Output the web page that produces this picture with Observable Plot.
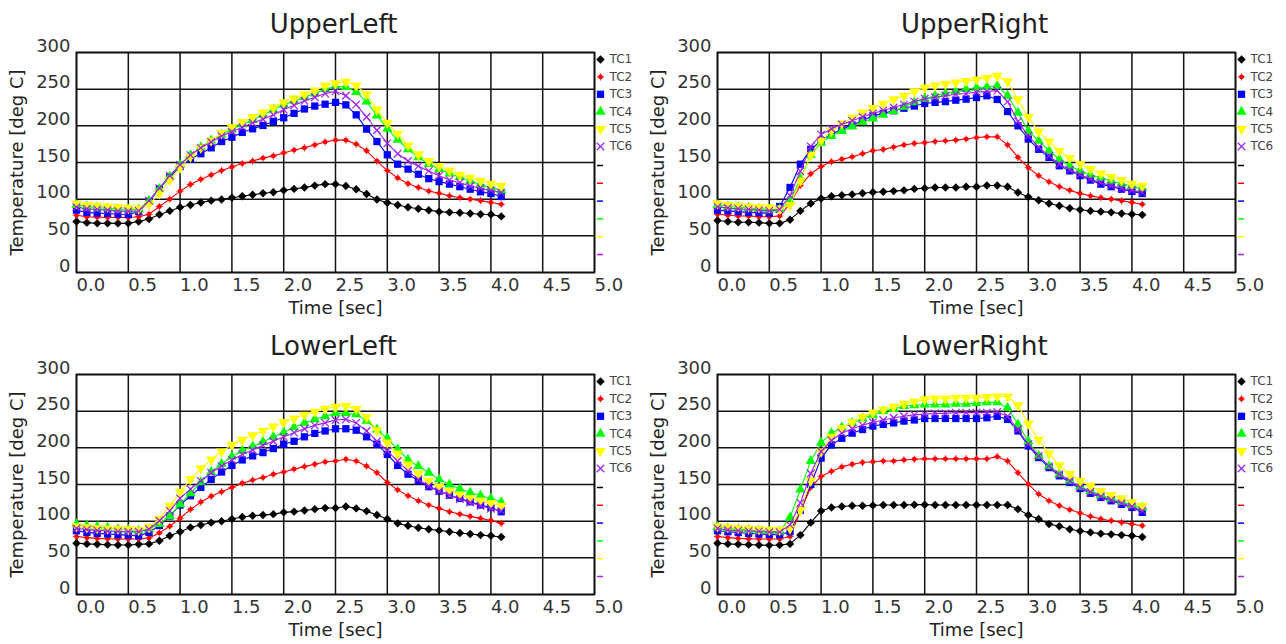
<!DOCTYPE html>
<html>
<head>
<meta charset="utf-8">
<script src="https://cdn.jsdelivr.net/npm/d3@7"></script>
<script src="https://cdn.jsdelivr.net/npm/@observablehq/plot@0.6"></script>
<style>
  html, body { margin: 0; padding: 0; background: #fff; }
  #panels { position: relative; width: 1286px; height: 644px; overflow: hidden; background: #fff; }
  #panels > div { position: absolute; }
</style>
</head>
<body>
<div id="panels"></div>
<script>
// Sample times [sec]
const times = [0.0,0.1,0.2,0.3,0.4,0.5,0.6,0.7,0.8,0.9,1.0,1.1,1.2,1.3,1.4,1.5,1.6,1.7,1.8,1.9,2.0,
               2.1,2.2,2.3,2.4,2.5,2.6,2.7,2.8,2.9,3.0,3.1,3.2,3.3,3.4,3.5,3.6,3.7,3.8,3.9,4.0,4.1];

const seriesNames = ["TC1", "TC2", "TC3", "TC4", "TC5", "TC6"];
const panelTitles = ["UpperLeft", "UpperRight", "LowerLeft", "LowerRight"];
const xTicks = [0, 0.5, 1, 1.5, 2, 2.5, 3, 3.5, 4, 4.5, 5];
const yTicks = [0, 50, 100, 150, 200, 250, 300];

// Thermocouple temperatures [deg C], one array per sensor and location
const upperLeftTC1 = [69.5,68,67,67,67,67,69.5,73,79,84,89,92,95.5,98,99.5,102,104,106,108,109.5,112,114,116,118.5,120.5,120.5,118,113.5,107,99.5,95,92,89,87,85,83,82,81.5,80.5,79.5,79,76.5];
const upperLeftTC2 = [78,76,75.5,75,75,75,76,79.5,90,100,111,120,127,133,139,144,148.5,152,156,159,163,167,170,174,178,180.5,180.5,175,166,152,139,129,121,116,111,108,104.5,102,100,98,95.5,93];
const upperLeftTC3 = [85,82,81,80.5,79.5,79,83,97,114,130,144.5,155,162,170,178.6,184.5,191,196,200.5,206,211,217,223,227,229.5,232,228.6,215,195.5,178.6,160.5,147.7,141,134,128,124,120.5,117,113.6,110,107.7,103.6];
const upperLeftTC4 = [92,90,88.5,87.5,86.5,86,86,98,114,131,147,160,171,180,188,195,202,208,215,222,229,234,239,244,250,254,253,246,233,214,196,181,168,157,148,141,135,130,125,120,116,112];
const upperLeftTC5 = [94,92,91,90,89,88,87,93,108,126,143,158,170,180,190,198,205,212,218,225,232,237,243,248,255,258,260,255,243,222,204,189,173,161,152,145,139,133,129,125,121,118];
const upperLeftTC6 = [89,87,86,85,84,83.5,84,98,115,132,147,160,170,178,186,192,198,204,209,215,222,228,234,239,244,247,241,229,212,194,176,162,152,145,138.5,132,126,122.5,118,115,112,109];

const upperRightTC1 = [71,69.5,68.6,68.6,68,67,67,72,84,94,101,104,105.5,106.5,108,109.5,110,111,112,114,115,116,116,116,117,117,118.6,118.6,117,109,103,98.6,94,91,87.7,85.5,84,83,82,80.5,79.5,78.6];
const upperRightTC2 = [79.5,78,77,77,76,76,77,94,118.6,134.6,144.5,151,154.5,157.7,162,166,167.7,171,174,176,177,178.6,179.5,180.5,182,184,185,185,174,157,143,132,123.6,117,112,107.7,104.5,102,100,97.7,95.5,93];
const upperRightTC3 = [85,84,83,82,81.5,81,90,116,147.7,168,179.5,188.6,195.5,201,207,213.6,217,220.5,224,227,230.5,232,233,235,236.4,238.6,241,236,219.5,200,182,168,157,145.5,138.6,132,126,120.5,117,113.6,110.5,107.7];
const upperRightTC4 = [92,90,89,88,87,86,86,97,128,160,177,186,193,199,205,210,215,220,226,232,237,241,244,247,250,252,253,254.5,241,218,193,179.5,166,154.5,145.5,138.6,133,129.5,125,121,118,115];
const upperRightTC5 = [94,92,91,90,89,88.6,87,92,125,160,180,193,203,211,218,224,230,236,241,247,252,255,257,259,261,263,265.5,268,260.5,236,212,192,178.6,166,156,147.7,141,135,130.5,126,121,118];
const upperRightTC6 = [89.5,88,87,86,85,84,86,105,138,172,188,196,202,207,212,217,221,225,229,233,237,239,241,243,244,246,247,248,233,206,186,171,159,148,140,133.5,127.5,122.5,118.5,115,112,109];

const lowerLeftTC1 = [70,69,68.4,68,67.5,67.5,68.4,69,73.4,80,85.6,91.5,94.7,98,100,103,105.6,107.4,108.3,109.6,112,113,114.6,116.4,118,118,120,117.4,113.7,108.3,103,97,93.8,91,89,87.4,85.6,83.8,82.5,81,80,78.4];
const lowerLeftTC2 = [79,77.5,76.5,76,75.7,75.7,75.7,77,84,93,104,116,126,134,140,146,151.8,156,159.5,164,167,171,174.4,177.6,180.8,182,184.4,182,175,166,152.7,142.7,134.6,127.8,122,117.4,112.8,109.6,106.5,103.8,101,97];
const lowerLeftTC3 = [87,84.7,83.4,82.5,81.6,81,80,84.7,94,107,122,134.6,146,157,167,176,183.5,189,193.5,199,205,209,215,219.7,223,226,226,224,215,205,191,176,164,155,147,141,135.5,131,126.4,122,118.7,112.8];
const lowerLeftTC4 = [96,93.8,92.4,91,89,88.4,87,89,96,107,123,138,153,167,178,188,196,202,208,215,221,228,234,239,243,247,247,245.6,237,225,213,198,184,175,166,157,150,144,139,135,131,126];
const lowerLeftTC5 = [93,91.5,90.5,90,89.5,89,88,92,103,121,140,157,172,184,195,204,211,217,223,229,235,240,245,249,253,256,257,253,242,224,207,192,177,165,155,147,141,136,131,128,124.5,121];
const lowerLeftTC6 = [90,88.5,87.5,86.5,86,85.6,85.6,89,100.6,114,131,143.6,155,166,175,183.5,191,197,203.4,209,215,220.7,226,230.6,234,238,238.8,234,223,209,196,182,168.5,157,148,141,135.5,130,125.5,121,117,114];

const lowerRightTC1 = [70,69,68.4,68,67.5,67,67.5,69,81,98,114,118.7,120,121,121,121.5,122,122,122,122.5,122.5,122,122,122,122,122,122,122,122,116.4,108.3,103,96,93,89,86.5,84.7,83,82,81,80,78.4];
const lowerRightTC2 = [79,77.5,76.5,76,75.7,75.7,75.7,79,113,146,161,168,174,177.6,180,181,182,182,183.5,184.4,185,185,185,185,185,185,185,188,182,166,150.4,137,127.8,121,115.5,111,106.5,103,100.6,98.3,96,93.8];
const lowerRightTC3 = [87,85.6,84.5,83.5,82.5,82,81.6,85.6,115,150,186,204,213,220,225,229.7,232,234,236.5,238,240,240,240,240,240,240,241,243,238.8,223,202.5,186.7,173,161.8,152.7,144.5,138,132.3,127.8,123,118.7,112];
const lowerRightTC4 = [92,90,89,88,87,86.5,86,105,143,182,207,220,228,234,240,245,250,253,257,258,259,259,259,260,260,261,262,262,254.6,232,209,189,175,164,155,147,141,135.5,131,126.4,122,118.7];
const lowerRightTC5 = [93,91.5,90.5,90,89,88,88,90,115,155,195,215,227,235,242,248,252,256,260,263,266,267,267,268,268,268,269,270,270,258,233,211,192,176,164,155,148,141,135.5,131,125.5,121];
const lowerRightTC6 = [90,88,87,86.5,86,85,85,95,125,165,195,210,220,226,231,235,238,241,243,245,246,247,247,248,248,248,248,249,243,225,205,189,175,164,155,146,140,133.7,129,124.6,120,114];

const panelValues = [
  [upperLeftTC1, upperLeftTC2, upperLeftTC3, upperLeftTC4, upperLeftTC5, upperLeftTC6],
  [upperRightTC1, upperRightTC2, upperRightTC3, upperRightTC4, upperRightTC5, upperRightTC6],
  [lowerLeftTC1, lowerLeftTC2, lowerLeftTC3, lowerLeftTC4, lowerLeftTC5, lowerLeftTC6],
  [lowerRightTC1, lowerRightTC2, lowerRightTC3, lowerRightTC4, lowerRightTC5, lowerRightTC6]
];

// ---- styling ----
const seriesColors = ["#000000", "#ff0000", "#0000ff", "#00ff00", "#ffff00", "#a020f0"];
const FONT = "DejaVu Sans";

// downward-pointing triangle (mirror of d3.symbolTriangle)
const triangleDown = {
  draw(ctx, size) {
    const y = -Math.sqrt(size / (Math.sqrt(3) * 3));
    const s3 = Math.sqrt(3);
    ctx.moveTo(0, -y * 2);
    ctx.lineTo(-s3 * y, y);
    ctx.lineTo(s3 * y, y);
    ctx.closePath();
  }
};
// short horizontal stroke used as a line sample
const dash = {
  draw(ctx, size) {
    const r = Math.sqrt(size / Math.PI);
    ctx.moveTo(-r, 0);
    ctx.lineTo(r, 0);
  }
};

function markerMarks(data, k, opts = {}) {
  const c = seriesColors[k];
  switch (k) {
    case 0: return [Plot.dot(data, {...opts, symbol: "diamond2", r: 3.8, fill: c, stroke: "none"})];
    case 1: return [
      Plot.dot(data, {...opts, symbol: "circle", r: 2.4, fill: c, stroke: "none"}),
      Plot.dot(data, {...opts, symbol: "plus", r: 2.5, fill: "none", stroke: c, strokeWidth: 0.8})
    ];
    case 2: return [Plot.dot(data, {...opts, symbol: "square", r: 4.1, fill: c, stroke: "none"})];
    case 3: return [Plot.dot(data, {...opts, symbol: "triangle", r: 3.8, fill: c, stroke: "none"})];
    case 4: return [Plot.dot(data, {...opts, symbol: triangleDown, r: 4.0, fill: c, stroke: "none"})];
    default: return [Plot.dot(data, {...opts, symbol: "times", r: 3.5, fill: "none", stroke: c, strokeWidth: 1.2})];
  }
}

function panel(title, values) {
  const seriesMarks = values.flatMap((vals, k) => {
    const rows = times.map((t, j) => ({t, v: vals[j]}));
    return [
      Plot.line(rows, {x: "t", y: "v", stroke: seriesColors[k], strokeWidth: 1.1}),
      ...markerMarks(rows, k, {x: "t", y: "v"})
    ];
  });

  const legendMarks = seriesNames.flatMap((name, k) => [
    ...markerMarks([name], k, {frameAnchor: "top-right", dx: 6, dy: 7 + k * 17.4}),
    Plot.text([name], {frameAnchor: "top-right", dx: 15, dy: 7 + k * 17.4, text: d => d,
      textAnchor: "start", lineAnchor: "middle", fontSize: 12, fill: "#444", fontFamily: FONT})
  ]);

  const sampleMarks = seriesColors.map((c, k) =>
    Plot.dot([c], {frameAnchor: "top-right", dx: 5.5, dy: 113 + k * 17.8, symbol: dash, r: 3,
      fill: "none", stroke: c, strokeWidth: 1.5})
  );

  return Plot.plot({
    width: 643,
    height: 322,
    marginLeft: 76,
    marginRight: 49,
    marginTop: 52,
    marginBottom: 50,
    style: {fontFamily: FONT, background: "#fff", overflow: "visible"},
    x: {domain: [0, 5]},
    y: {domain: [0, 300]},
    marks: [
      Plot.gridX(xTicks, {stroke: "#111", strokeOpacity: 1, strokeWidth: 1.5}),
      Plot.gridY(yTicks, {stroke: "#111", strokeOpacity: 1, strokeWidth: 1.5}),
      Plot.frame({stroke: "#111", strokeWidth: 1.7}),
      Plot.axisX({ticks: xTicks, tickSize: 0, tickFormat: d3.format(".1f"), textAnchor: "start",
        dx: 0, dy: -3, fontSize: 18, fill: "#333", label: null}),
      Plot.axisY({ticks: yTicks, tickSize: 0, tickFormat: d3.format("d"), textAnchor: "end",
        lineAnchor: "bottom", dx: 3, dy: -1, fontSize: 18, fill: "#333", label: null}),
      ...seriesMarks,
      ...legendMarks,
      ...sampleMarks,
      Plot.text([title], {frameAnchor: "top", text: d => d, dx: -2, dy: -20, lineAnchor: "bottom",
        fontSize: 26, fill: "#222", fontFamily: FONT}),
      Plot.text(["Time [sec]"], {frameAnchor: "bottom", text: d => d, dy: 41, lineAnchor: "bottom",
        fontSize: 18, fill: "#222", fontFamily: FONT}),
      Plot.text(["Temperature [deg C]"], {frameAnchor: "left", text: d => d, rotate: -90, dx: -53.5,
        textAnchor: "middle", lineAnchor: "bottom", fontSize: 18, fill: "#222", fontFamily: FONT})
    ]
  });
}

const host = document.getElementById("panels");
const offsets = [[0, 0], [641, 0], [0, 322], [641, 322]];
panelTitles.forEach((title, p) => {
  const cell = document.createElement("div");
  cell.style.left = offsets[p][0] + "px";
  cell.style.top = offsets[p][1] + "px";
  cell.appendChild(panel(title, panelValues[p]));
  host.appendChild(cell);
});
</script>
</body>
</html>
